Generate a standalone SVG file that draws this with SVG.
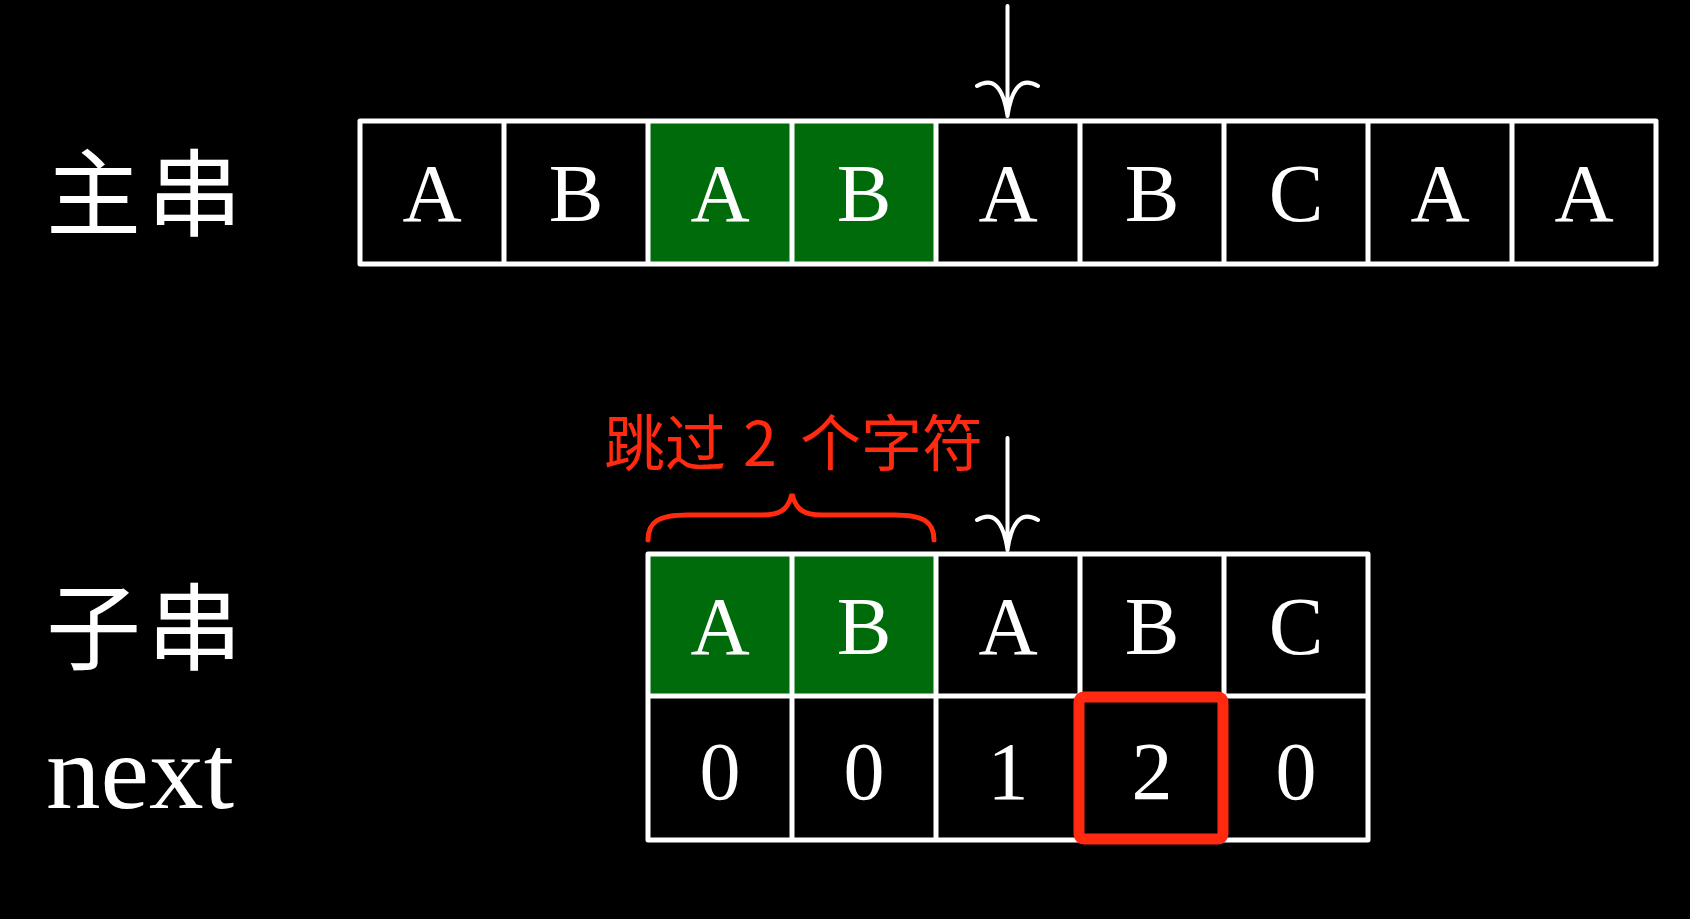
<svg xmlns="http://www.w3.org/2000/svg" width="1690" height="919" viewBox="0 0 1690 919">
<style>
.cell{fill:#000;stroke:#fff;stroke-width:5;stroke-linejoin:round}
.hit{fill:#006b0a}
.grid{fill:none;stroke:#fff;stroke-width:5}
.ch{font-family:"Liberation Serif","DejaVu Serif",serif;font-size:82px;fill:#fff;text-anchor:middle}
.lbl{font-family:"Noto Sans CJK SC","Noto Sans",sans-serif;font-size:95px;fill:#fff;letter-spacing:6px}
.arr{fill:none;stroke:#fff;stroke-width:4;stroke-linecap:round}
.red{fill:#ff2a10;font-family:"Noto Sans CJK SC","Noto Sans",sans-serif;font-size:61px}
</style>
<rect x="0" y="0" width="1690" height="919" fill="#000"/>

<g id="labels">
<text class="lbl" x="46" y="229">主串</text>
<text class="lbl" x="46" y="663">子串</text>
<text x="46" y="808" font-family="Liberation Serif, DejaVu Serif, serif" font-size="106" fill="#fff" textLength="188" lengthAdjust="spacingAndGlyphs">next</text>
</g>

<g id="main-string">
<rect x="360" y="121" width="1296" height="143" fill="#000"/>
<rect class="hit" x="648" y="121" width="288" height="143"/>
<rect class="grid" x="360" y="121" width="1296" height="143" stroke-linejoin="round"/>
<path class="grid" d="M504 121V264M648 121V264M792 121V264M936 121V264M1080 121V264M1224 121V264M1368 121V264M1512 121V264"/>
<text class="ch" x="432" y="221">A</text>
<text class="ch" x="576" y="221">B</text>
<text class="ch" x="720" y="221">A</text>
<text class="ch" x="864" y="221">B</text>
<text class="ch" x="1008" y="221">A</text>
<text class="ch" x="1152" y="221">B</text>
<text class="ch" x="1296" y="221">C</text>
<text class="ch" x="1440" y="221">A</text>
<text class="ch" x="1584" y="221">A</text>
</g>

<g id="sub-string">
<rect x="648" y="554" width="720" height="286" fill="#000"/>
<rect class="hit" x="648" y="554" width="288" height="142"/>
<rect class="grid" x="648" y="554" width="720" height="286" stroke-linejoin="round"/>
<path class="grid" d="M648 696H1368M792 554V840M936 554V840M1080 554V840M1224 554V840"/>
<text class="ch" x="720" y="654">A</text>
<text class="ch" x="864" y="654">B</text>
<text class="ch" x="1008" y="654">A</text>
<text class="ch" x="1152" y="654">B</text>
<text class="ch" x="1296" y="654">C</text>
<text class="ch" x="720" y="799">0</text>
<text class="ch" x="864" y="799">0</text>
<text class="ch" x="1008" y="799">1</text>
<text class="ch" x="1152" y="799">2</text>
<text class="ch" x="1296" y="799">0</text>
</g>

<g id="highlight">
<rect x="1079" y="697" width="144" height="142" rx="5" fill="none" stroke="#ff2a10" stroke-width="11"/>
</g>

<g id="skip-note">
<path d="M648 540C648 522 658 515 688 515L762 515C780 515 788 510 792 494C796 510 804 515 822 515L894 515C924 515 934 522 934 540" fill="none" stroke="#ff2a10" stroke-width="5" stroke-linecap="round"/>
<text class="red" y="466"><tspan x="604">跳过</tspan><tspan x="743">2</tspan><tspan x="800">个字符</tspan></text>
</g>

<g id="connectors">
<path class="arr" d="M1007.5 6V116M977 86Q1001 72 1007.5 116M1038 86Q1014 72 1007.5 116"/>
<path class="arr" d="M1007.5 438V550M977 520Q1001 506 1007.5 550M1038 520Q1014 506 1007.5 550"/>
</g>
</svg>
